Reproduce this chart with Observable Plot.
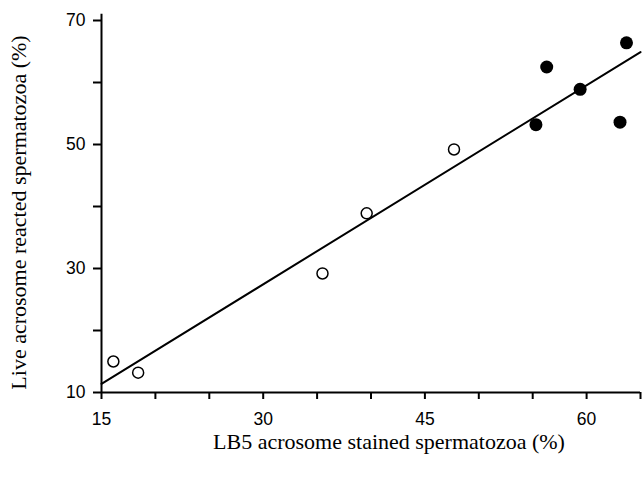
<!DOCTYPE html>
<html>
<head>
<meta charset="utf-8">
<script src="https://cdn.jsdelivr.net/npm/d3@7"></script>
<script src="https://cdn.jsdelivr.net/npm/@observablehq/plot@0.6"></script>
<style>
  html, body { margin: 0; padding: 0; background: #fff; }
  #chart svg { display: block; }
</style>
</head>
<body>
<div id="chart"></div>
<script>
// Open circles
const openX = [16.1, 18.4, 35.5, 39.6, 47.7];
const openY = [15.0, 13.2, 29.2, 38.9, 49.2];
// Filled circles
const filledX = [55.3, 56.3, 59.4, 63.1, 63.7];
const filledY = [53.2, 62.5, 58.9, 53.6, 66.4];
// Fitted line
const fitX = [15, 65];
const fitY = [11.4, 64.9];
// Ticks
const xTicks = [15, 20, 25, 30, 35, 40, 45, 50, 55, 60, 65];
const xLabels = [15, 30, 45, 60];
const yTicks = [10, 20, 30, 40, 50, 60, 70];
const yLabels = [10, 30, 50, 70];
const xTitle = "LB5 acrosome stained spermatozoa (%)";
const yTitle = "Live acrosome reacted spermatozoa (%)";

const openData = openX.map((x, i) => ({x, y: openY[i]}));
const filledData = filledX.map((x, i) => ({x, y: filledY[i]}));
const fitData = fitX.map((x, i) => ({x, y: fitY[i]}));

const chart = Plot.plot({
  width: 644,
  height: 482,
  marginLeft: 101,
  marginRight: 4,
  marginTop: 20,
  marginBottom: 90,
  x: {domain: [15, 65]},
  y: {domain: [10, 70]},
  style: {background: "#fff", color: "#000", fontSize: "17px"},
  marks: [
    Plot.axisX({ticks: xTicks, tickFormat: d => xLabels.includes(d) ? String(d) : "", tickSize: 7, tickPadding: 13, strokeWidth: 2, fontSize: 17.5, fontFamily: "Liberation Sans", label: null}),
    Plot.axisY({ticks: yTicks, tickFormat: d => yLabels.includes(d) ? String(d) : "", tickSize: 8, tickPadding: 8, strokeWidth: 2, fontSize: 17.5, fontFamily: "Liberation Sans", label: null}),
    Plot.ruleY([10], {x1: 15, x2: 65, strokeWidth: 2}),
    Plot.ruleX([15], {y1: 10, y2: 71, strokeWidth: 2}),
    Plot.line(fitData, {x: "x", y: "y", stroke: "#000", strokeWidth: 2}),
    Plot.dot(openData, {x: "x", y: "y", r: 5.5, stroke: "#000", strokeWidth: 1.5, fill: "#fff"}),
    Plot.dot(filledData, {x: "x", y: "y", r: 6.5, fill: "#000", stroke: "none"}),
    Plot.text([xTitle], {text: d => d, frameAnchor: "bottom", lineAnchor: "middle", textAnchor: "middle", dx: 18, dy: 49, fontSize: 22, fontFamily: "Liberation Serif", fill: "#000"}),
    Plot.text([yTitle], {text: d => d, frameAnchor: "left", lineAnchor: "middle", textAnchor: "middle", rotate: -90, dx: -83, dy: 6, fontSize: 22, fontFamily: "Liberation Serif", fill: "#000"})
  ]
});
document.getElementById("chart").appendChild(chart);
</script>
</body>
</html>
